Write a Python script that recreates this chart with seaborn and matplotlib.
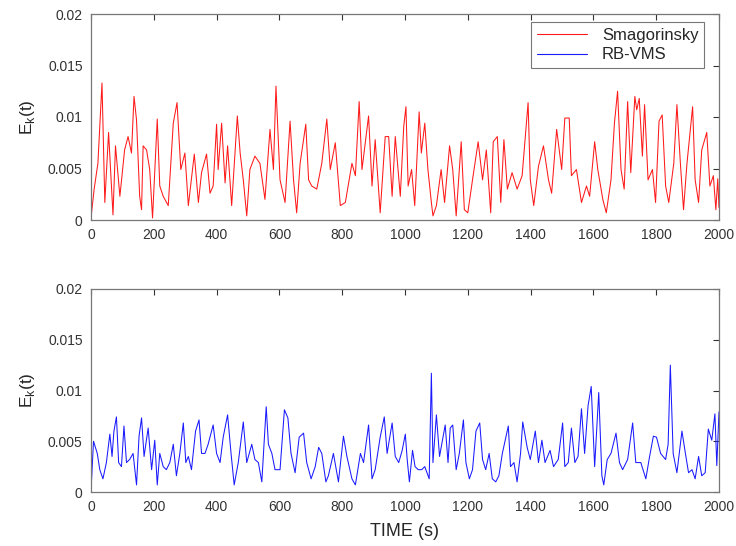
import numpy as np
import pandas as pd
import matplotlib
matplotlib.use("Agg")
import matplotlib.pyplot as plt
from matplotlib.lines import Line2D
import seaborn as sns

# ---- data (values in units of 1e-3) ----
smag_t = [0, 10, 22, 35, 44, 56, 70, 78, 92, 107, 118, 129, 137, 145, 155, 161, 166, 177, 187, 196,
          211, 219, 230, 246, 262, 274, 286, 299, 310, 329, 342, 352, 368, 379, 389, 400, 405, 416, 427, 435,
          448, 466, 475, 485, 496, 506, 522, 538, 554, 570, 581, 589, 602, 618, 634, 645, 655, 666, 684, 693,
          703, 719, 735, 751, 762, 778, 794, 810, 831, 842, 854, 863, 884, 895, 905, 921, 937, 948, 959, 969,
          985, 996, 1003, 1010, 1021, 1031, 1045, 1052, 1063, 1073, 1084, 1089, 1100, 1115, 1126, 1142, 1152, 1163, 1179, 1189,
          1200, 1215, 1233, 1247, 1259, 1273, 1281, 1294, 1305, 1315, 1326, 1341, 1357, 1373, 1392, 1399, 1410, 1425, 1441, 1457,
          1467, 1483, 1499, 1509, 1523, 1530, 1546, 1562, 1578, 1588, 1604, 1614, 1630, 1641, 1656, 1667, 1677, 1688, 1698, 1709,
          1719, 1732, 1738, 1746, 1756, 1763, 1774, 1788, 1798, 1809, 1819, 1830, 1840, 1856, 1866, 1877, 1887, 1898, 1916, 1924,
          1935, 1945, 1961, 1971, 1982, 1990, 1996, 2000]
smag_v = [0.2, 3.0, 5.5, 13.3, 1.7, 8.5, 0.5, 7.2, 2.3, 6.8, 8.1, 6.5, 12.0, 9.7, 2.3, 1.0, 7.2, 6.8, 4.9, 0.2,
          9.8, 3.3, 2.3, 1.4, 9.4, 11.4, 4.9, 6.5, 1.4, 6.4, 1.7, 4.6, 6.4, 2.6, 3.3, 9.3, 4.9, 9.4, 3.6, 7.2,
          1.4, 10.1, 6.5, 3.9, 0.4, 4.9, 6.2, 5.5, 2.0, 8.8, 4.9, 13.0, 3.9, 1.7, 9.6, 3.9, 0.7, 5.5, 9.3, 3.9,
          3.3, 3.0, 5.5, 9.8, 4.9, 7.5, 1.4, 1.7, 5.5, 4.3, 11.5, 4.9, 10.1, 3.3, 7.8, 0.7, 8.1, 8.1, 2.3, 8.1,
          2.3, 9.1, 11.0, 3.3, 4.9, 1.4, 10.5, 6.5, 9.4, 4.9, 1.7, 0.4, 1.4, 4.9, 1.7, 7.2, 4.9, 0.4, 7.6, 1.0,
          0.7, 3.9, 7.6, 3.9, 6.8, 0.7, 7.6, 8.1, 1.7, 7.8, 3.0, 4.6, 3.0, 4.3, 11.4, 3.9, 1.4, 5.2, 7.2, 3.9,
          2.6, 8.8, 4.9, 9.9, 9.9, 4.3, 4.9, 1.7, 3.3, 2.3, 7.6, 4.9, 2.0, 0.7, 3.9, 9.4, 12.5, 4.9, 3.0, 11.5,
          4.6, 12.0, 10.7, 11.8, 6.2, 11.2, 3.9, 4.9, 1.7, 9.6, 10.2, 3.3, 1.7, 5.5, 11.2, 5.5, 1.0, 5.5, 11.0, 3.9,
          1.7, 6.8, 8.5, 3.3, 4.3, 1.0, 4.0, 1.2]

rb_t = [0, 8, 20, 28, 38, 49, 60, 67, 73, 81, 88, 97, 105, 113, 123, 134, 145, 153, 161, 169,
        182, 193, 203, 211, 219, 230, 240, 251, 262, 272, 283, 294, 302, 310, 320, 333, 344, 352, 363, 373,
        389, 400, 411, 421, 435, 446, 456, 469, 485, 496, 512, 522, 533, 544, 558, 565, 576, 586, 602, 616,
        627, 637, 650, 663, 677, 687, 701, 714, 725, 735, 748, 756, 772, 788, 804, 815, 831, 842, 858, 868,
        884, 895, 905, 921, 934, 943, 959, 969, 980, 991, 1001, 1007, 1014, 1024, 1032, 1042, 1053, 1063, 1077, 1084,
        1089, 1100, 1110, 1121, 1128, 1137, 1144, 1152, 1163, 1173, 1186, 1194, 1205, 1215, 1226, 1238, 1247, 1257, 1268, 1278,
        1289, 1299, 1310, 1329, 1336, 1347, 1357, 1368, 1375, 1389, 1399, 1415, 1425, 1436, 1446, 1462, 1473, 1488, 1502, 1509,
        1520, 1530, 1541, 1551, 1562, 1572, 1583, 1593, 1604, 1617, 1627, 1633, 1644, 1656, 1672, 1683, 1693, 1709, 1725, 1735,
        1751, 1767, 1779, 1791, 1801, 1814, 1830, 1838, 1845, 1854, 1866, 1882, 1893, 1903, 1914, 1924, 1935, 1945, 1956, 1966,
        1977, 1987, 1993, 2000]
rb_v = [0.1, 5.0, 3.8, 2.2, 1.3, 2.9, 5.7, 3.5, 6.0, 7.4, 2.9, 2.5, 6.5, 2.9, 3.2, 3.8, 0.7, 5.5, 7.3, 3.5,
        6.3, 2.2, 5.1, 0.7, 3.8, 2.5, 2.2, 2.9, 4.7, 1.6, 3.8, 6.8, 2.9, 3.5, 2.2, 6.0, 7.1, 3.8, 3.8, 4.7,
        6.6, 3.8, 2.9, 5.4, 7.6, 3.8, 0.7, 2.9, 6.9, 2.9, 4.7, 3.2, 2.9, 1.0, 8.4, 4.7, 3.8, 2.2, 2.2, 8.1,
        7.3, 3.8, 1.9, 5.4, 5.8, 2.9, 1.3, 2.5, 4.4, 3.8, 1.0, 1.6, 3.8, 1.0, 5.5, 3.5, 1.3, 0.7, 3.8, 2.9,
        6.6, 1.3, 2.2, 5.4, 7.4, 3.8, 6.8, 3.5, 2.9, 4.1, 5.7, 3.2, 1.0, 4.1, 2.5, 2.2, 2.2, 2.5, 1.3, 11.7,
        2.9, 7.6, 3.5, 5.4, 6.6, 2.9, 6.3, 6.6, 2.2, 3.8, 7.1, 2.9, 1.3, 2.2, 6.0, 6.8, 3.2, 2.2, 3.8, 1.3,
        1.0, 1.6, 3.8, 6.5, 2.5, 2.9, 1.0, 3.8, 6.9, 4.4, 3.2, 6.0, 2.9, 5.1, 2.9, 4.1, 2.5, 3.2, 6.8, 2.5,
        2.9, 6.3, 2.9, 3.5, 8.2, 3.8, 8.5, 10.4, 2.5, 9.8, 1.6, 0.7, 3.2, 3.8, 5.8, 2.9, 2.2, 3.2, 6.8, 2.9,
        2.9, 1.3, 3.5, 5.5, 5.4, 3.8, 3.2, 4.7, 12.5, 3.8, 1.9, 6.0, 3.8, 1.9, 2.2, 1.3, 3.5, 1.6, 1.9, 6.2,
        5.1, 7.7, 2.6, 7.9]

x_ticks = [0, 200, 400, 600, 800, 1000, 1200, 1400, 1600, 1800, 2000]
y_ticks = [0, 0.005, 0.01, 0.015, 0.02]
y_tick_labels = ["0", "0.005", "0.01", "0.015", "0.02"]

smag = pd.DataFrame({"t": smag_t, "E": np.array(smag_v) * 1e-3})
rb = pd.DataFrame({"t": rb_t, "E": np.array(rb_v) * 1e-3})

sns.set_style("white")
plt.rcParams["font.family"] = ["Liberation Sans", "DejaVu Sans"]

fig = plt.figure(figsize=(7.36, 5.46), dpi=100)
ax1 = fig.add_axes([91 / 736, 1 - 220 / 546, 628 / 736, 206 / 546])
ax2 = fig.add_axes([91 / 736, 1 - 492 / 546, 628 / 736, 203 / 546])

sns.lineplot(data=smag, x="t", y="E", ax=ax1, color="#ff1a1a", lw=0.75, legend=False)
sns.lineplot(data=rb, x="t", y="E", ax=ax2, color="#1a1aff", lw=0.75, legend=False)

for ax in (ax1, ax2):
    ax.set_xlim(0, 2000)
    ax.set_ylim(0, 0.02)
    ax.set_xticks(x_ticks)
    ax.set_yticks(y_ticks)
    ax.set_yticklabels(y_tick_labels)
    ax.tick_params(direction="in", top=True, right=True, length=4, width=0.8,
                   labelsize=10, colors="#333333", pad=6)
    for s in ax.spines.values():
        s.set_color("#777777")
        s.set_linewidth(0.9)
    ax.set_ylabel(r"E$_\mathregular{k}$(t)", fontsize=12.5, labelpad=8)
    ax.set_xlabel("")

ax2.set_xlabel("TIME (s)", fontsize=13, labelpad=6)

handles = [Line2D([], [], color="#ff1a1a", lw=0.8), Line2D([], [], color="#1a1aff", lw=0.8)]
leg = ax1.legend(handles, ["Smagorinsky", "RB-VMS"], loc="upper right", fontsize=12,
                 frameon=True, fancybox=False, handlelength=3.0, handletextpad=0.9,
                 borderpad=0.35, labelspacing=0.25, bbox_to_anchor=(0.99, 1.0))
leg.get_frame().set_edgecolor("#555555")
leg.get_frame().set_linewidth(0.8)

fig.savefig("out.png", dpi=100)
